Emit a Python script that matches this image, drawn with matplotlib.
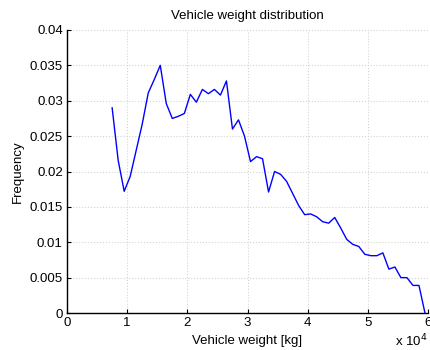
import matplotlib
matplotlib.use("Agg")
import matplotlib.pyplot as plt
import numpy as np

plt.rcParams['font.family'] = ['Liberation Sans', 'DejaVu Sans']

# Bin centres of vehicle weight [kg] and relative frequency per bin
weight_kg = np.arange(7500, 60500, 1000)
frequency = [
    0.0290, 0.0216, 0.0172, 0.0193, 0.0230, 0.0267, 0.0311, 0.0330, 0.0350, 0.0296,
    0.0275, 0.0278, 0.0282, 0.0309, 0.0298, 0.0316, 0.0310, 0.0316, 0.0308, 0.0328,
    0.0260, 0.0273, 0.0250, 0.0214, 0.0221, 0.0218, 0.0171, 0.0200, 0.0196, 0.0186,
    0.0169, 0.0152, 0.0139, 0.0140, 0.0136, 0.0129, 0.0127, 0.0135, 0.0120, 0.0104,
    0.0097, 0.0094, 0.0083, 0.0081, 0.0081, 0.0085, 0.0062, 0.0065, 0.0050, 0.0050,
    0.0039, 0.0039, 0.0000,
]
x_ticks = [0, 1, 2, 3, 4, 5, 6]
y_ticks = [0, 0.005, 0.01, 0.015, 0.02, 0.025, 0.03, 0.035, 0.04]
y_tick_labels = ['0', '0.005', '0.01', '0.015', '0.02', '0.025', '0.03', '0.035', '0.04']

fig = plt.figure(figsize=(4.31, 3.50), dpi=100)
ax = fig.add_axes([0.1555, 0.1057, 0.8375, 0.8086])

ax.plot(weight_kg, frequency, color='#0000ff', linewidth=1.0)

ax.set_xlim(0, 60000)
ax.set_ylim(0, 0.04)
ax.set_xticks([t * 1e4 for t in x_ticks])
ax.set_xticklabels([str(t) for t in x_ticks])
ax.set_yticks(y_ticks)
ax.set_yticklabels(y_tick_labels)

ax.grid(True, color='#d4d4d4', linestyle=':', linewidth=0.8)
ax.set_axisbelow(True)
for side in ('top', 'right'):
    ax.spines[side].set_visible(False)
for side in ('left', 'bottom'):
    ax.spines[side].set_linewidth(1.0)
ax.tick_params(direction='in', length=3, width=0.8, labelsize=9.5, pad=3)

ax.set_title('Vehicle weight distribution', fontsize=9.5, pad=8)
ax.set_xlabel('Vehicle weight [kg]', fontsize=9.5, labelpad=4)
ax.set_ylabel('Frequency', fontsize=9.5, labelpad=4)
ax.text(1.0, -0.068, r'x 10$^{4}$', transform=ax.transAxes, ha='right', va='top',
        fontsize=9.5)

fig.savefig('out.png', dpi=100)
